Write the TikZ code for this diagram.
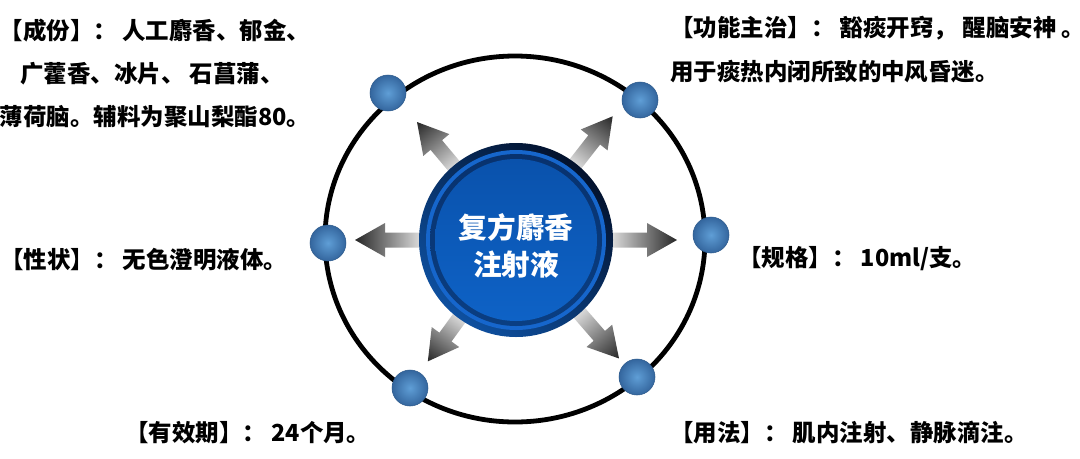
\documentclass[tikz,border=0pt]{standalone}
\usepackage{fontspec}
\newfontfamily\cjk{Noto Sans CJK SC}
\definecolor{dotin}{RGB}{95,158,214}
\definecolor{dotout}{RGB}{52,102,158}
\definecolor{dotedge}{RGB}{45,90,140}
\definecolor{navyA}{RGB}{3,18,45}
\definecolor{navyB}{RGB}{14,80,160}
\definecolor{ringbright}{RGB}{22,102,204}
\definecolor{ringdarkA}{RGB}{8,50,110}
\definecolor{ringdarkB}{RGB}{10,62,130}
\definecolor{innerA}{RGB}{10,82,172}
\definecolor{innerB}{RGB}{14,98,198}
\tikzset{
  lbl/.style={font=\cjk\bfseries\fontsize{17.6}{21}\selectfont, inner sep=0pt, text=black},
  dotball/.style={inner color=dotin, outer color=dotout, draw=dotedge, line width=0.4pt},
  arrowshade/.style={left color=black!10, right color=black!85},
}
\newcommand{\gradarrow}[3]{%
  \begin{scope}[transform canvas={shift={(ctr)}, rotate=#1}]
    \shade[arrowshade] (#2,-7.5) -- (#3-30,-7.5) -- (#3-30,-17) -- (#3,0) -- (#3-30,17) -- (#3-30,7.5) -- (#2,7.5) -- cycle;
  \end{scope}}
\begin{document}
\begin{tikzpicture}[x=0.75pt,y=-0.75pt]
\useasboundingbox (0,0) rectangle (1080,458);
\fill[white] (0,0) rectangle (1080,458);
\coordinate (ctr) at (516,240);
% big ring
\draw[line width=3.6pt] (515,239) ellipse [x radius=190, y radius=183];
% arrows
\gradarrow{180}{92}{161}
\gradarrow{0}{92}{161}
\gradarrow{130}{92}{154}
\gradarrow{52}{92}{157}
\gradarrow{-49}{92}{157}
\gradarrow{-126}{92}{150}
% center disc
\shade[top color=navyA, bottom color=navyB, shading angle=-40] (ctr) circle [radius=97];
\fill[ringbright] (ctr) circle [radius=90];
\shade[top color=ringdarkA, bottom color=ringdarkB] (ctr) circle [radius=86];
\shade[top color=innerA, bottom color=innerB] (ctr) circle [radius=81];
\node[font=\cjk\bfseries\fontsize{21.5}{28}\selectfont, text=white, align=center, inner sep=0pt] (title) at (516,246) {复方麝香\\注射液};
% dots
\shade[dotball] (328,243) circle [radius=18] coordinate (d1);
\shade[dotball] (711,235) circle [radius=18] coordinate (d2);
\shade[dotball] (388,93) circle [radius=18] coordinate (d3);
\shade[dotball] (640,100) circle [radius=18] coordinate (d4);
\shade[dotball] (410,388) circle [radius=18] coordinate (d5);
\shade[dotball] (637,377) circle [radius=18] coordinate (d6);
% labels
\node[lbl, anchor=center] (t1a) at (155,31) {【成份】： 人工麝香、郁金、};
\node[lbl, anchor=center] (t1b) at (152,74) {广藿香、冰片、 石菖蒲、};
\node[lbl, anchor=center] (t1c) at (155,117) {薄荷脑。辅料为聚山梨酯80。};
\node[lbl, anchor=west] (t2a) at (670,28) {【功能主治】： 豁痰开窍， 醒脑安神 。};
\node[lbl, anchor=west] (t2b) at (670,72) {用于痰热内闭所致的中风昏迷。};
\node[lbl, anchor=west] (t3) at (0,260) {【性状】： 无色澄明液体。};
\node[lbl, anchor=west] (t4) at (738,259) {【规格】： 10ml/支。};
\node[lbl, anchor=west] (t5) at (125,433) {【有效期】： 24个月。};
\node[lbl, anchor=west] (t6) at (670,432) {【用法】： 肌内注射、静脉滴注。};
\end{tikzpicture}
\end{document}
